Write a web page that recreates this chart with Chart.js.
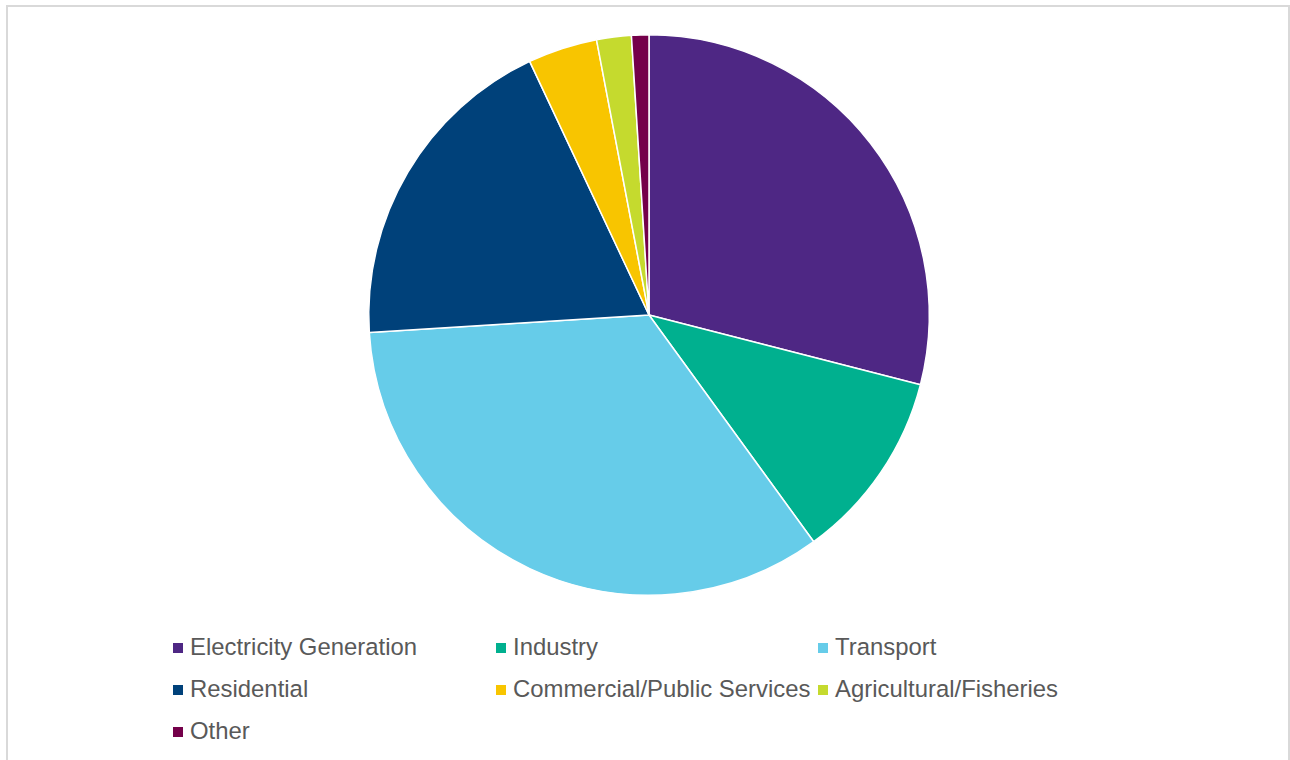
<!DOCTYPE html>
<html>
<head>
<meta charset="utf-8">
<script src="https://cdn.jsdelivr.net/npm/chart.js@4/dist/chart.umd.min.js"></script>
<style>
  body { margin: 0; background: #fff; width: 1290px; height: 760px; overflow: hidden; position: relative; }
  #frame { position: absolute; left: 6px; top: 5px; width: 1280px; height: 800px; border: 2px solid #d9d9d9; }
  #wrap { position: absolute; left: 0; top: 0; width: 1290px; height: 600px; }
  #legend { position: absolute; left: 173px; top: 626px; display: grid; grid-template-columns: 323px 322px 322px;
            font-family: "Liberation Sans", Arial, sans-serif; font-size: 23.9px; color: #595959; }
  #legend div { height: 42px; line-height: 42px; white-space: nowrap; }
  #legend span { display: inline-block; width: 10px; height: 10px; margin-right: 7px; vertical-align: 2px; }
</style>
</head>
<body>
<div id="frame"></div>
<div id="wrap"><canvas id="pie_chart"></canvas></div>
<div id="legend"></div>
<script>
//----------------------------------------
//--- Data
//----------------------------------------

var sectors = ['Electricity Generation', 'Industry', 'Transport', 'Residential',
               'Commercial/Public Services', 'Agricultural/Fisheries', 'Other'];
var shares = [29, 11, 34, 19, 4, 2, 1];
var colours = ['#4E2784', '#00B08F', '#66CCE9', '#00417A', '#F8C500', '#C5DA2E', '#74004A'];

//----------------------------------------
//--- Pie chart
//----------------------------------------

var pie_chart = new Chart(document.getElementById('pie_chart').getContext('2d'), {
    type: 'pie',
    data: {
        labels: sectors,
        datasets: [{
            data: shares,
            backgroundColor: colours,
            borderColor: '#ffffff', borderWidth: 1.5
        }]
    },
    options: {
        responsive: true, maintainAspectRatio: false, animation: false,
        layout: {padding: {left: 8, right: 0, top: 34, bottom: 4}},
        plugins: {
            legend: {display: false},
            tooltip: {enabled: false}
        }
    }
});

// legend laid out as a fixed three-column grid
var legend = document.getElementById('legend');
sectors.forEach(function (name, i) {
    var item = document.createElement('div');
    item.innerHTML = '<span style="background:' + colours[i] + '"></span>' + name;
    legend.appendChild(item);
});
</script>
</body>
</html>
